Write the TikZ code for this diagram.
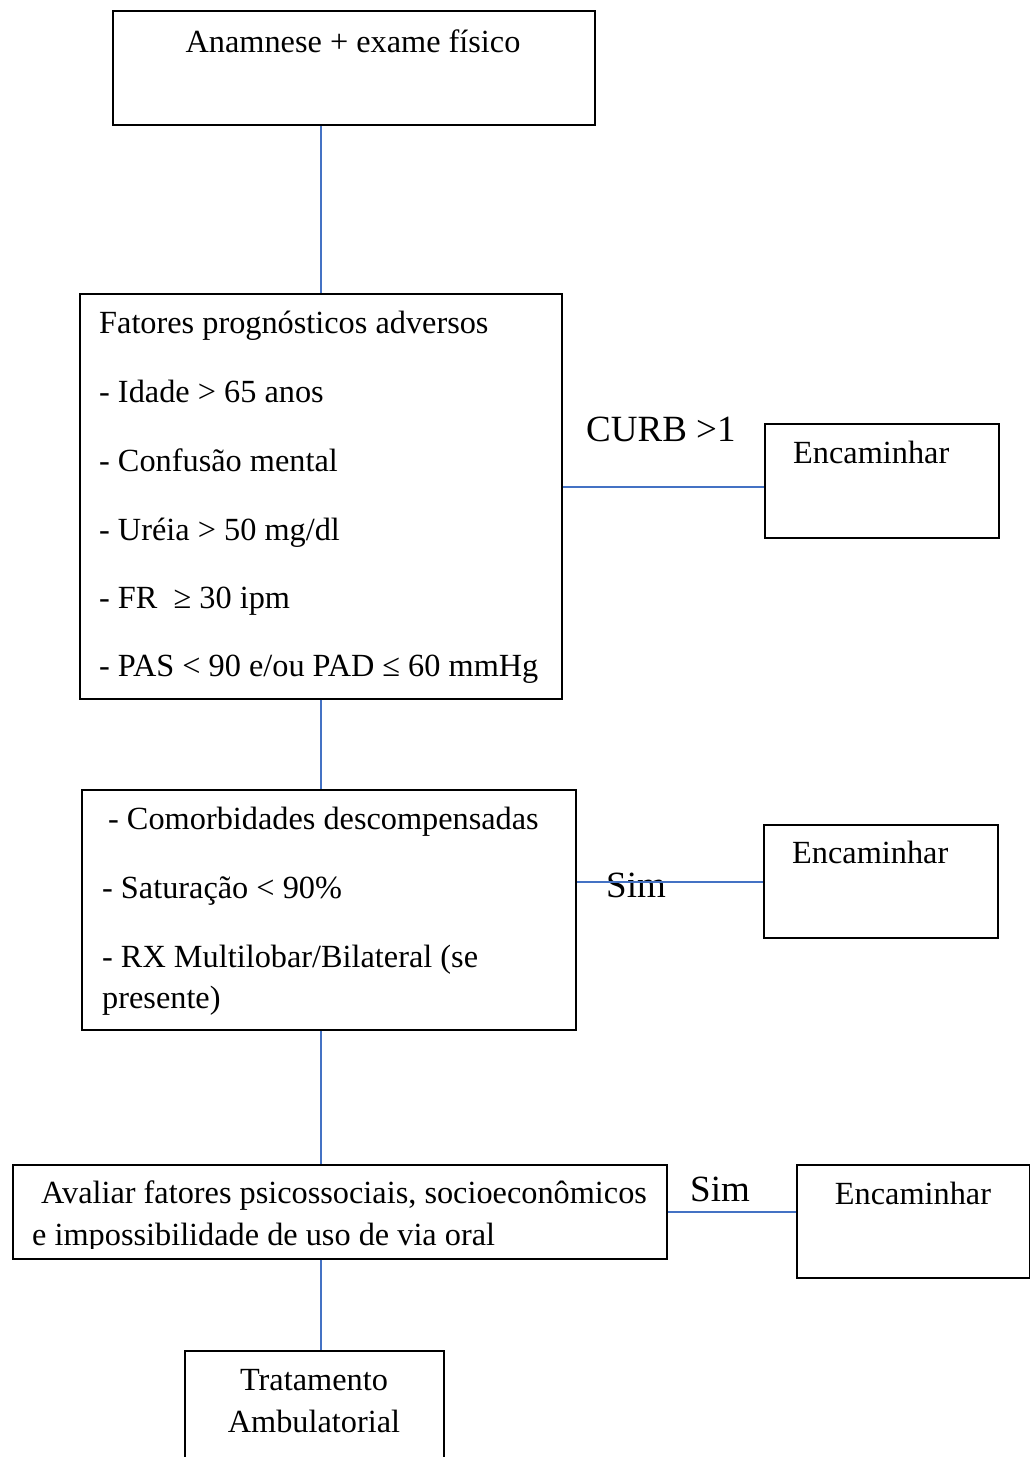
\documentclass[tikz,border=0pt]{standalone}
\usepackage{fontspec}
\setmainfont{Liberation Serif}
\definecolor{lnblue}{HTML}{4472C4}
\tikzset{
  box/.style={draw=black, line width=1.8pt, rectangle, inner sep=0pt, anchor=north west},
  lbl/.style={anchor=base west, inner sep=0pt, font=\fontsize{32.3}{38}\selectfont},
  lblc/.style={anchor=base, inner sep=0pt, font=\fontsize{32.3}{38}\selectfont},
  big/.style={anchor=base west, inner sep=0pt, font=\fontsize{37}{44}\selectfont},
  conn/.style={draw=lnblue, line width=1.6pt}
}
\begin{document}
\begin{tikzpicture}[x=1pt,y=-1pt]
\useasboundingbox[fill=white] (0,0) rectangle (1030,1457);
% boxes
\node[box, minimum width=482pt, minimum height=114pt] (A) at (112,10) {};
\node[box, minimum width=482pt, minimum height=405pt] (B) at (79,293) {};
\node[box, minimum width=234pt, minimum height=114pt] (E1) at (764,423) {};
\node[box, minimum width=494pt, minimum height=240pt] (C) at (81,789) {};
\node[box, minimum width=234pt, minimum height=113pt] (E2) at (763,824) {};
\node[box, minimum width=654pt, minimum height=94pt] (D) at (12,1164) {};
\node[box, minimum width=233pt, minimum height=113pt] (E3) at (796,1164) {};
\node[box, minimum width=259pt, minimum height=130pt] (F) at (184,1350) {};
% texts
\node[lblc] (ta) at (353,52) {Anamnese + exame físico};
\node[lbl] (b1) at (99,333) {Fatores prognósticos adversos};
\node[lbl] (b2) at (99,402) {- Idade > 65 anos};
\node[lbl] (b3) at (99,471) {- Confusão mental};
\node[lbl] (b4) at (99,540) {- Uréia > 50 mg/dl};
\node[lbl] (b5) at (99,608) {- FR\ \ ≥ 30 ipm};
\node[lbl] (b6) at (99,676) {- PAS < 90 e/ou PAD ≤ 60 mmHg};
\node[big] (curb) at (586,441) {CURB >1};
\node[lbl] (e1t) at (793,463) {Encaminhar};
\node[lbl] (c1) at (108,829) {- Comorbidades descompensadas};
\node[lbl] (c2) at (102,898) {- Saturação < 90\%};
\node[lbl] (c3) at (102,967) {- RX Multilobar/Bilateral (se};
\node[lbl] (c4) at (102,1008) {presente)};
\node[lbl] (e2t) at (792,863) {Encaminhar};
\node[lbl] (d1) at (41,1203) {Avaliar fatores psicossociais, socioeconômicos};
\begin{scope}
\clip (12,1164) rectangle (666,1248);
\node[lbl] (d2) at (32,1245) {e impossibilidade de uso de via oral};
\end{scope}
\node[big] (sim2) at (690,1201) {Sim};
\node[lblc] (e3t) at (913,1204) {Encaminhar};
\node[lblc] (f1) at (314,1390) {Tratamento};
\node[lblc] (f2) at (314,1432) {Ambulatorial};
% connectors
\draw[conn] (B.north) -- (B.north |- A.south);
\draw[conn] ([yshift=-6pt]E1.west) -- ([yshift=-6pt]E1.west -| B.east);
\draw[conn] (B.south) -- (B.south |- C.north);
\draw[conn] (B.south |- C.south) -- (B.south |- D.north);
\draw[conn] (B.south |- D.south) -- (B.south |- F.north);
\draw[conn] (D.east) -- (D.east -| E3.west);
\node[big] (sim1) at (606,897) {Sim};
\draw[conn] ([yshift=-0.5pt]E2.west) -- ([yshift=-0.5pt]E2.west -| C.east);
\end{tikzpicture}
\end{document}
